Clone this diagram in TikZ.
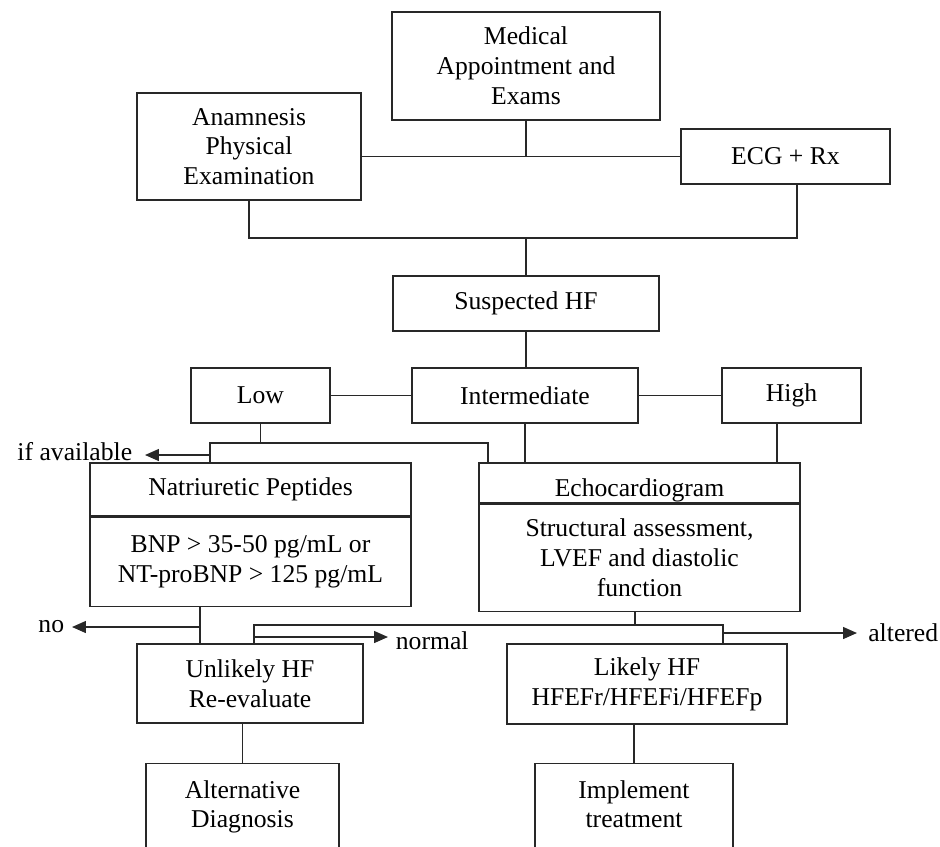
\documentclass[tikz,border=0pt]{standalone}
\usepackage{fontspec}
\setmainfont{Liberation Serif}
\usepackage{tikz}
\usetikzlibrary{arrows.meta}
\definecolor{lineC}{RGB}{40, 40, 40}

\tikzset{
  box/.style={draw=lineC, line width=0.8pt, align=center, font=\fontsize{14.6}{17}\selectfont},
  lbl/.style={inner sep=0.15cm, font=\fontsize{14.6}{17}\selectfont},
  conn/.style={draw=lineC, line width=0.8pt},
  arr/.style={-{Triangle[length=0.28cm, width=0.24cm]}},
}

\begin{document}
\begin{tikzpicture}[x=0.02cm, y=-0.02cm]
  \useasboundingbox (0,0) rectangle (940,846);
  \clip (0,0) rectangle (940,846);

  % --- appointment and exams ---
  \node[box, minimum width=5.36cm, minimum height=2.16cm] (med) at (526,66) {Medical\\Appointment and\\Exams};
  \node[box, minimum width=4.48cm, minimum height=2.14cm] (anam) at (249,146.5) {Anamnesis\\Physical\\Examination};
  \node[box, minimum width=4.18cm, minimum height=1.10cm] (ecg) at (785.5,156.5) {ECG + Rx};

  \coordinate (jtop) at (med.south |- ecg.west);
  \coordinate (jmid) at (526,238);
  \draw[conn] (med.south) -- (jtop);
  \draw[conn] (anam.east |- jtop) -- (ecg.west);
  \draw[conn] (anam.south) |- (jmid) -| ([xshift=0.23cm]ecg.south);

  % --- suspected HF and probability ---
  \node[box, minimum width=5.32cm, minimum height=1.10cm] (susp) at (526,303.5) {Suspected HF};
  \draw[conn] (jmid) -- (susp.north);
  \node[box, minimum width=2.78cm, minimum height=1.10cm] (low) at (260.5,395.5) {Low};
  \node[box, minimum width=4.52cm, minimum height=1.10cm] (inter) at (525,395.5) {Intermediate};
  \node[box, minimum width=2.78cm, minimum height=1.10cm] (high) at (791.5,395.5) {High};
  \draw[conn] (susp.south) -- (susp.south |- inter.north);
  \draw[conn] (low.east) -- (inter.west);
  \draw[conn] (inter.east) -- (high.west);

  % --- tests ---
  \node[box, minimum width=6.42cm, minimum height=1.06cm] (nphead) at (250.5,489.5) {Natriuretic Peptides};
  \node[box, minimum width=6.42cm, minimum height=1.78cm, anchor=north] (npbody) at (nphead.south) {BNP > 35-50 pg/mL or\\NT-proBNP > 125 pg/mL};
  \node[box, minimum width=6.42cm, minimum height=0.80cm, inner ysep=0pt, text height=0.67cm] (echohead) at (639.5,483) {Echocardiogram};
  \node[box, minimum width=6.42cm, minimum height=2.14cm, anchor=north] (echobody) at (echohead.south) {Structural assessment,\\LVEF and diastolic\\function};

  \coordinate (jlow) at (low.south |- 0,443);
  \draw[conn] (low.south) -- (jlow);
  \draw[conn] (nphead.north -| 210,0) |- (jlow) -| (echohead.north -| 488,0);
  \coordinate (javail) at (210,455);
  \node[lbl, anchor=east, inner xsep=0.25cm] (avail) at (145,452) {if available};
  \draw[conn, arr] (javail) -- (javail -| avail.east);
  \draw[conn] (inter.south) -- (inter.south |- echohead.north);
  \draw[conn] (high.south -| 777,0) -- (echohead.north -| 777,0);

  % --- results ---
  \node[box, minimum width=4.52cm, minimum height=1.58cm] (unl) at (250,683.5) {Unlikely HF\\Re-evaluate};
  \node[box, minimum width=5.60cm, minimum height=1.60cm] (lik) at (647,684) {Likely HF\\HFEFr/HFEFi/HFEFp};
  \draw[conn] (npbody.south -| 200,0) -- (unl.north -| 200,0);
  \coordinate (jno) at (200,627);
  \node[lbl, anchor=east] (no) at (72,627) {no};
  \draw[conn, arr] (jno) -- (no.east);

  \coordinate (jecho) at (635,625);
  \draw[conn] (echobody.south -| jecho) -- (jecho);
  \draw[conn] (unl.north -| 254,0) |- (jecho) -| (lik.north -| 723,0);
  \coordinate (jnorm) at (254,637);
  \node[lbl, anchor=west] (normal) at (388,641) {normal};
  \draw[conn, arr] (jnorm) -- (jnorm -| normal.west);
  \coordinate (jalt) at (723,633);
  \node[lbl, anchor=west, inner xsep=0.22cm] (altered) at (857,633) {altered};
  \draw[conn, arr] (jalt) -- (altered.west);

  % --- outcome ---
  \node[box, minimum width=3.86cm, anchor=north, inner ysep=0.33cm, text depth=1.6cm] (alt) at (242.5,763) {Alternative\\Diagnosis};
  \node[box, minimum width=3.96cm, anchor=north, inner ysep=0.33cm, text depth=1.6cm] (impl) at (634,763) {Implement\\treatment};
  \draw[conn] (alt.north |- unl.south) -- (alt.north);
  \draw[conn] (impl.north |- lik.south) -- (impl.north);
\end{tikzpicture}
\end{document}
